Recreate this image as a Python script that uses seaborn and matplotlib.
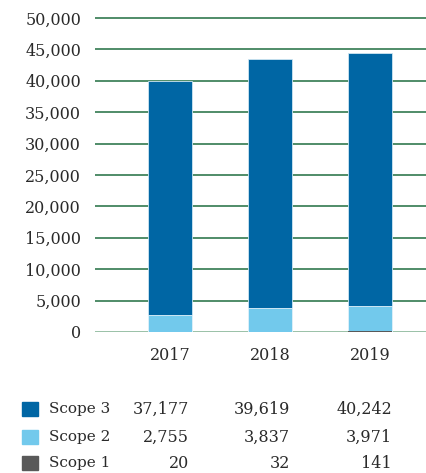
import numpy as np
import matplotlib
matplotlib.use("Agg")
import matplotlib.pyplot as plt
import matplotlib.patches as mpatches
import seaborn as sns
import pandas as pd

years = ["2017", "2018", "2019"]
scope1 = [20, 32, 141]
scope2 = [2755, 3837, 3971]
scope3 = [37177, 39619, 40242]
yticks = [0, 5000, 10000, 15000, 20000, 25000, 30000, 35000, 40000, 45000, 50000]

c3 = "#0066a4"
c2 = "#72c9ec"
c1 = "#595959"
grid_c = "#1f6e40"

sns.set_style("white")
plt.rcParams["font.family"] = ["DejaVu Serif"]

df = pd.DataFrame({"year": years, "s1": scope1, "s2": scope2, "s3": scope3})
df["top3"] = df["s1"] + df["s2"] + df["s3"]
df["top2"] = df["s1"] + df["s2"]

fig = plt.figure(figsize=(4.27, 4.73), dpi=100)
ax = fig.add_axes([95 / 427, 1 - 332 / 473, 1 - 95 / 427, 314 / 473 * 1.006])

for v in yticks:
    ax.axhline(v, color=grid_c if v else "#7fb08f", lw=1.1, zorder=0)

# stacked by overdrawing cumulative totals
sns.barplot(data=df, x="year", y="top3", color=c3, width=0.44, saturation=1,
            edgecolor="#cfe6f2", linewidth=0.6, ax=ax, zorder=2)
sns.barplot(data=df, x="year", y="top2", color=c2, width=0.44, saturation=1,
            edgecolor="#e6f4fb", linewidth=0.6, ax=ax, zorder=3)
sns.barplot(data=df, x="year", y="s1", color=c1, width=0.44, saturation=1,
            linewidth=0, ax=ax, zorder=4)

txt = "#2a2a2a"
ax.set_xlim(-0.75, 2.57)
ax.set_ylim(0, 50000 * 1.006)
ax.set_yticks(yticks)
ax.set_yticklabels([f"{v:,}" for v in yticks], fontsize=11.5, color=txt)
ax.tick_params(axis="y", length=0, pad=10)
ax.tick_params(axis="x", length=0, pad=11, labelsize=11.5, labelcolor=txt)
ax.set_xlabel("")
ax.set_ylabel("")
sns.despine(ax=ax, left=True, bottom=True, top=True, right=True)

# table-like legend below the chart
rows = [("Scope 3", c3, scope3, 409), ("Scope 2", c2, scope2, 437), ("Scope 1", c1, scope1, 463)]
W, H = 427, 473
for name, col, vals, yp in rows:
    fig.patches.append(mpatches.Rectangle((22 / W, 1 - (yp + 7) / H), 16 / W, 14 / H,
                                          transform=fig.transFigure, color=col))
    fig.text(49 / W, 1 - yp / H, name, ha="left", va="center", fontsize=11, color=txt)
    for xp, v in zip([189, 290, 392], vals):
        fig.text(xp / W, 1 - yp / H, f"{v:,}", ha="right", va="center", fontsize=11.5, color=txt)

fig.savefig("out.png", dpi=100)
